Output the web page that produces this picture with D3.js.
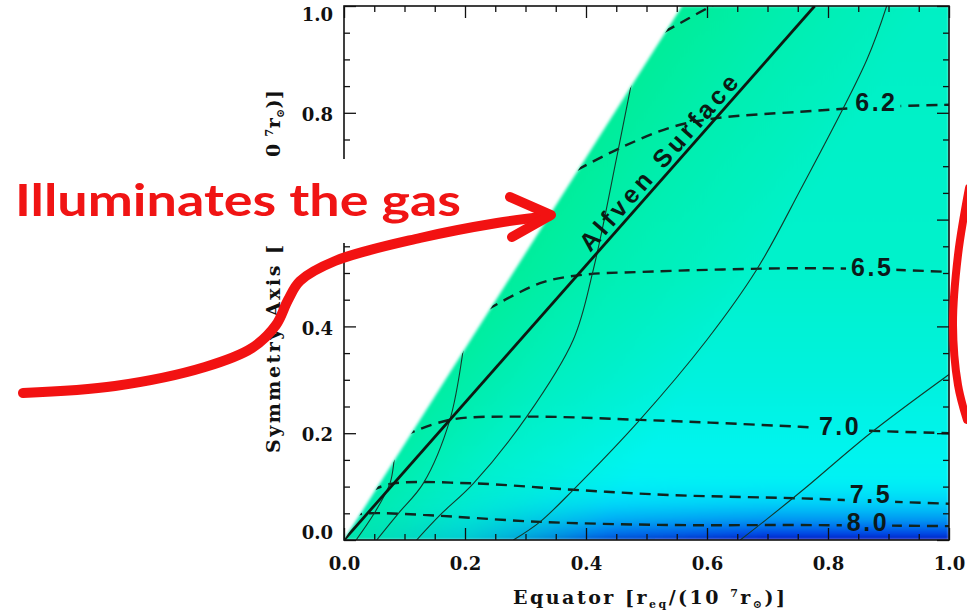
<!DOCTYPE html>
<html>
<head>
<meta charset="utf-8">
<script src="https://cdn.jsdelivr.net/npm/d3@7"></script>
<style>
  body { margin: 0; background: #fff; }
  svg { display: block; }
  .tick text { font-family: "DejaVu Serif", serif; font-weight: bold; font-size: 18px; fill: #111; }
  .tick line { stroke: #111; stroke-width: 1.3; }
</style>
</head>
<body>
<svg id="chart" width="967" height="616"></svg>
<script>
// ---- values ----
const tickVals = [0, 0.2, 0.4, 0.6, 0.8, 1.0];
const tickLabels = ['0.0', '0.2', '0.4', '0.6', '0.8', '1.0'];
const minorVals = [0.05, 0.1, 0.15, 0.25, 0.3, 0.35, 0.45, 0.5, 0.55, 0.65, 0.7, 0.75, 0.85, 0.9, 0.95];

// edge of the illuminated gas wedge and the Alfven surface
const wedgeEdge = [[0, 0], [0.559, 1.0]];
const alfven = [[0, 0], [0.778, 1.0]];

// density contours (dashed), [x, y]
const contourNames = ['', '6.2', '6.5', '7.0', '7.5', '8.0'];
const c60 = [[0.53, 0.952], [0.57, 0.977], [0.615, 1.005]];
const c62 = [[0.385, 0.693], [0.462, 0.737], [0.544, 0.774], [0.616, 0.79], [0.754, 0.802], [0.88, 0.811], [1.0, 0.815]];
const c65 = [[0.238, 0.432], [0.324, 0.481], [0.39, 0.496], [0.489, 0.502], [0.754, 0.509], [0.88, 0.507], [1.0, 0.502]];
const c70 = [[0.1, 0.196], [0.175, 0.225], [0.302, 0.231], [0.489, 0.225], [0.754, 0.212], [0.86, 0.205], [1.0, 0.2]];
const c75 = [[0.045, 0.093], [0.082, 0.106], [0.214, 0.106], [0.379, 0.094], [0.544, 0.084], [0.754, 0.078], [0.87, 0.073], [1.0, 0.068]];
const c80 = [[0.012, 0.046], [0.04, 0.05], [0.131, 0.047], [0.324, 0.034], [0.544, 0.028], [0.754, 0.028], [1.0, 0.026]];
const contours = [c60, c62, c65, c70, c75, c80];
// label centres [x, y]
const labelPos = [null, [0.88, 0.82], [0.873, 0.511], [0.82, 0.213], [0.871, 0.086], [0.866, 0.034]];

// field lines (thin solid)
const fA = [[0.02, 0], [0.05, 0.05], [0.076, 0.106], [0.083, 0.15], [0.086, 0.175]];
const fB = [[0.054, 0], [0.09, 0.05], [0.131, 0.106], [0.175, 0.225], [0.197, 0.356], [0.2, 0.385]];
const fC = [[0.12, 0], [0.159, 0.047], [0.214, 0.106], [0.302, 0.231], [0.379, 0.375], [0.412, 0.506], [0.451, 0.718], [0.473, 0.843], [0.478, 0.875]];
const fD = [[0.28, 0], [0.324, 0.034], [0.379, 0.094], [0.489, 0.225], [0.6, 0.375], [0.682, 0.506], [0.754, 0.655], [0.864, 0.899], [0.897, 1.0]];
const fE = [[0.655, 0], [0.7, 0.04], [0.76, 0.095], [0.87, 0.2], [1.0, 0.31]];
const fieldLines = [fA, fB, fC, fD, fE];

// axis titles (the y title is partly hidden behind the annotation box)
const yTitleLow = 'Symmetry Axis [';
const yTitleHighParts = ['0 ', '7', 'r', '⊙', ')]'];
const xTitleParts = ['Equator [r', 'eq', '/(10 ', '7', 'r', '⊙', ')]'];

// hand-drawn annotation (page pixels)
const noteText = 'Illuminates the gas';
const noteBox = [0, 159, 480, 84];
const arrowPts = [[23, 393], [115, 386], [205, 367], [252, 348], [276, 325], [288, 300], [300, 281], [335, 261], [420, 238], [497, 223], [549, 216]];
const arrowHead = [[510, 197], [551, 215], [512, 237]];
const arcPts = [[969, 188], [958, 255], [953, 325], [958, 385], [967, 420]];

// ---- setup ----
const svg = d3.select('#chart');
const x = d3.scaleLinear().domain([0, 1]).range([344, 949]);
const y = d3.scaleLinear().domain([0, 1]).range([540, 6]);
const W = x(1) - x(0), H = y(0) - y(1);

const defs = svg.append('defs');
defs.append('clipPath').attr('id', 'plotClip')
  .append('rect').attr('x', x(0)).attr('y', y(1)).attr('width', W).attr('height', H);

const wedgePoly = [wedgeEdge[0], wedgeEdge[1], [1, 1], [1, 0]];
defs.append('clipPath').attr('id', 'wedgeClip')
  .append('polygon').attr('points', wedgePoly.map(p => [x(p[0]), y(p[1])].join(',')).join(' '));

// base colour, top to bottom
const base = defs.append('linearGradient').attr('id', 'baseGrad')
  .attr('gradientUnits', 'userSpaceOnUse')
  .attr('x1', 0).attr('y1', y(1)).attr('x2', 0).attr('y2', y(0));
[[0, '#04f0c4'], [0.5, '#00f2cc'], [0.7, '#00f2de'], [0.85, '#00f4f0'], [0.94, '#00eefa'], [1, '#00dcf6']]
  .forEach(s => base.append('stop').attr('offset', s[0]).attr('stop-color', s[1]));

// blue at the bottom, stronger towards the right
const blue = defs.append('linearGradient').attr('id', 'blueGrad')
  .attr('gradientUnits', 'userSpaceOnUse')
  .attr('x1', 0).attr('y1', y(0.12)).attr('x2', 0).attr('y2', y(0));
[[0, '#00e8f8', 0], [0.4, '#00c0f8', 0.6], [0.7, '#0088f0', 0.9], [0.9, '#0048e4', 1], [1, '#0a1ac0', 1]]
  .forEach(s => blue.append('stop').attr('offset', s[0]).attr('stop-color', s[1]).attr('stop-opacity', s[2]));
const blueMaskGrad = defs.append('linearGradient').attr('id', 'blueMaskGrad')
  .attr('gradientUnits', 'userSpaceOnUse')
  .attr('x1', x(0)).attr('y1', 0).attr('x2', x(1)).attr('y2', 0);
[[0, 0], [0.2, 0.15], [0.45, 0.75], [0.7, 1], [1, 1]]
  .forEach(s => blueMaskGrad.append('stop').attr('offset', s[0]).attr('stop-color', '#fff').attr('stop-opacity', s[1]));
defs.append('mask').attr('id', 'blueMask')
  .append('rect').attr('x', 0).attr('y', 0).attr('width', 967).attr('height', 616).attr('fill', 'url(#blueMaskGrad)');

// green glow along the wedge edge
const ex0 = x(wedgeEdge[0][0]), ey0 = y(wedgeEdge[0][1]);
const ex1 = x(wedgeEdge[1][0]), ey1 = y(wedgeEdge[1][1]);
const len = Math.hypot(ex1 - ex0, ey1 - ey0);
const nx = -(ey1 - ey0) / len, ny = (ex1 - ex0) / len;
const green = defs.append('linearGradient').attr('id', 'greenGrad')
  .attr('gradientUnits', 'userSpaceOnUse')
  .attr('x1', ex0).attr('y1', ey0).attr('x2', ex0 + nx * 300).attr('y2', ey0 + ny * 300);
[[0, 0.62], [0.3, 0.3], [0.7, 0]]
  .forEach(s => green.append('stop').attr('offset', s[0]).attr('stop-color', '#00ea7e').attr('stop-opacity', s[1]));

defs.append('filter').attr('id', 'soft').attr('x', '-5%').attr('y', '-5%').attr('width', '110%').attr('height', '110%')
  .append('feGaussianBlur').attr('stdDeviation', 1.6);

// ---- coloured gas region ----
const field = svg.append('g').attr('clip-path', 'url(#plotClip)')
  .append('g').attr('filter', 'url(#soft)')
  .append('g').attr('clip-path', 'url(#wedgeClip)');
field.append('rect').attr('x', x(0)).attr('y', y(1)).attr('width', W).attr('height', H).attr('fill', 'url(#baseGrad)');
field.append('rect').attr('x', x(0)).attr('y', y(0.12)).attr('width', W).attr('height', y(0) - y(0.12))
  .attr('fill', 'url(#blueGrad)').attr('mask', 'url(#blueMask)');
field.append('rect').attr('x', x(0)).attr('y', y(1)).attr('width', W).attr('height', H).attr('fill', 'url(#greenGrad)');

const line = d3.line().x(d => x(d[0])).y(d => y(d[1])).curve(d3.curveCatmullRom);

const inner = svg.append('g').attr('clip-path', 'url(#plotClip)')
  .append('g').attr('clip-path', 'url(#wedgeClip)');

// contour labels first, so the dashed lines can leave a gap for them
const contourG = inner.append('g').attr('mask', 'url(#gapMask)');
const labelG = svg.append('g');
contourNames.forEach((name, i) => {
  if (!name) return;
  labelG.append('text')
    .attr('x', x(labelPos[i][0])).attr('y', y(labelPos[i][1]))
    .attr('dy', '0.36em').attr('text-anchor', 'middle')
    .attr('font-family', '"Liberation Sans", Arial, sans-serif').attr('font-weight', 'bold')
    .attr('font-size', 25).attr('letter-spacing', 2.5).attr('fill', '#0b1a1a')
    .text(name);
});
const gapMask = defs.append('mask').attr('id', 'gapMask').attr('maskUnits', 'userSpaceOnUse')
  .attr('x', 0).attr('y', 0).attr('width', 967).attr('height', 616);
gapMask.append('rect').attr('width', 967).attr('height', 616).attr('fill', '#fff');
labelG.selectAll('text').each(function () {
  const b = this.getBBox();
  gapMask.append('rect').attr('x', b.x - 5).attr('y', b.y + 3).attr('width', b.width + 8).attr('height', b.height - 6).attr('fill', '#000');
});

contourG.selectAll('path').data(contours).enter().append('path')
  .attr('d', line).attr('fill', 'none')
  .attr('stroke', '#10241f').attr('stroke-width', 2.4)
  .attr('stroke-dasharray', '11,7');

inner.append('g').selectAll('path').data(fieldLines).enter().append('path')
  .attr('d', line).attr('fill', 'none')
  .attr('stroke', '#123a2c').attr('stroke-width', 1.1);

inner.append('path').datum(alfven).attr('d', d3.line().x(d => x(d[0])).y(d => y(d[1])))
  .attr('fill', 'none').attr('stroke', '#0d1a12').attr('stroke-width', 2.8);

// Alfven Surface label along the line
const ang = Math.atan2(y(alfven[1][1]) - y(alfven[0][1]), x(alfven[1][0]) - x(alfven[0][0])) * 180 / Math.PI;
const tA = 0.69;
svg.append('text')
  .attr('transform', `translate(${x(alfven[1][0] * tA)},${y(tA)}) rotate(${ang})`)
  .attr('y', -5).attr('text-anchor', 'middle')
  .attr('font-family', '"Liberation Sans", Arial, sans-serif').attr('font-weight', 'bold')
  .attr('font-size', 25).attr('textLength', 226).attr('lengthAdjust', 'spacing')
  .attr('fill', '#0b1a14')
  .text('Alfven Surface');

// ---- axes: ticks point inwards on all four sides ----
svg.append('g').attr('transform', `translate(0,${y(0)})`)
  .call(d3.axisBottom(x).tickValues(tickVals).tickFormat((d, i) => tickLabels[i]).tickSizeInner(-12).tickSizeOuter(0).tickPadding(17));
svg.append('g').attr('transform', `translate(0,${y(0)})`)
  .call(d3.axisBottom(x).tickValues(minorVals).tickFormat('').tickSizeInner(-6).tickSizeOuter(0));
const axL = svg.append('g').attr('transform', `translate(${x(0)},0)`)
  .call(d3.axisLeft(y).tickValues(tickVals).tickFormat((d, i) => tickLabels[i]).tickSizeInner(-12).tickSizeOuter(0).tickPadding(11));
svg.append('g').attr('transform', `translate(${x(0)},0)`)
  .call(d3.axisLeft(y).tickValues(minorVals).tickFormat('').tickSizeInner(-6).tickSizeOuter(0));
svg.append('g').attr('transform', `translate(0,${y(1)})`)
  .call(d3.axisTop(x).tickValues(tickVals).tickFormat('').tickSizeInner(-12).tickSizeOuter(0));
svg.append('g').attr('transform', `translate(0,${y(1)})`)
  .call(d3.axisTop(x).tickValues(minorVals).tickFormat('').tickSizeInner(-6).tickSizeOuter(0));
svg.append('g').attr('transform', `translate(${x(1)},0)`)
  .call(d3.axisRight(y).tickValues(tickVals).tickFormat('').tickSizeInner(-12).tickSizeOuter(0));
svg.append('g').attr('transform', `translate(${x(1)},0)`)
  .call(d3.axisRight(y).tickValues(minorVals).tickFormat('').tickSizeInner(-6).tickSizeOuter(0));
svg.selectAll('.domain').remove();
// end labels of the y axis are kept inside the frame
axL.selectAll('.tick text').attr('y', d => d === 1 ? 9 : d === 0 ? -7 : 2);
// the label under the annotation box is not visible in the picture
axL.selectAll('.tick text').filter(d => y(d) > noteBox[1] && y(d) < noteBox[1] + noteBox[3]).remove();

svg.append('rect').attr('x', x(0)).attr('y', y(1)).attr('width', W).attr('height', H)
  .attr('fill', 'none').attr('stroke', '#111').attr('stroke-width', 1.6);

// axis titles
const titleFont = t => t.attr('font-family', '"DejaVu Serif", serif').attr('font-weight', 'bold')
  .attr('font-size', 19).attr('lengthAdjust', 'spacing').attr('fill', '#111');
const xt = svg.append('text').attr('x', 649).attr('y', 604).attr('text-anchor', 'middle')
  .attr('textLength', 272).call(titleFont);
// parts: text, sub, text, sup, text, sub, text
const shifts = [0, 4, -4, -7, 7, 4, -4];
const small = [false, true, false, true, false, true, false];
xTitleParts.forEach((s, i) => {
  xt.append('tspan').attr('dy', shifts[i]).attr('font-size', small[i] ? 11 : null).text(s);
});

svg.append('text').attr('transform', 'translate(280,453) rotate(-90)')
  .attr('textLength', 208).call(titleFont).text(yTitleLow);
const yt = svg.append('text').attr('transform', 'translate(280,157) rotate(-90)')
  .attr('textLength', 67).call(titleFont);
[0, -7, 7, 4, -4].forEach((dy, i) => {
  yt.append('tspan').attr('dy', dy).attr('font-size', (i === 1 || i === 3) ? 11 : null).text(yTitleHighParts[i]);
});

// ---- red annotation on top ----
svg.append('rect').attr('x', noteBox[0]).attr('y', noteBox[1]).attr('width', noteBox[2]).attr('height', noteBox[3]).attr('fill', '#fff');
svg.append('text')
  .attr('x', 15).attr('y', 216)
  .attr('font-family', '"Comic Sans MS", Lato, sans-serif').attr('font-weight', 'bold')
  .attr('font-size', 44).attr('textLength', 446).attr('lengthAdjust', 'spacingAndGlyphs')
  .attr('fill', '#f01414')
  .text(noteText);

const red = '#f21212';
svg.append('path').datum(arrowPts)
  .attr('d', d3.line().curve(d3.curveCatmullRom))
  .attr('fill', 'none').attr('stroke', red).attr('stroke-width', 10).attr('stroke-linecap', 'round');
svg.append('path').datum(arrowHead)
  .attr('d', d3.line())
  .attr('fill', 'none').attr('stroke', red).attr('stroke-width', 10)
  .attr('stroke-linecap', 'round').attr('stroke-linejoin', 'round');
svg.append('path').datum(arcPts)
  .attr('d', d3.line().curve(d3.curveCatmullRom))
  .attr('fill', 'none').attr('stroke', red).attr('stroke-width', 8).attr('stroke-linecap', 'round');
</script>
</body>
</html>
